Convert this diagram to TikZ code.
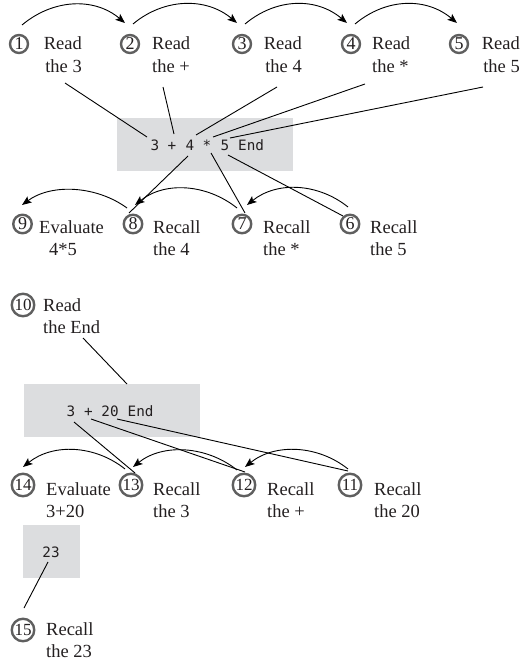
\documentclass[tikz,border=0pt]{standalone}
\usepackage{fontspec}
\setmainfont{Liberation Serif}
\newfontfamily\codefont{DejaVu Sans Mono}
\usetikzlibrary{arrows.meta}
\definecolor{boxgray}{RGB}{220,221,223}
\definecolor{ringgray}{RGB}{95,95,95}
\definecolor{ink}{RGB}{35,31,32}
\newcommand{\twoline}[3]{\begin{tabular}[t]{@{}#1@{}}#2\\#3\end{tabular}}
\begin{document}
\begin{tikzpicture}[x=1pt,y=-1pt,
  lbl/.style={inner sep=0pt, font=\fontsize{18.5}{22}\selectfont, text=ink},
  ring/.style={circle, draw=ringgray, line width=2.4pt, inner sep=0pt, text=ink},
  ringA/.style={ring, minimum size=18pt, font=\fontsize{18}{18}\selectfont},
  ringB/.style={ring, minimum size=18.5pt, font=\fontsize{18}{18}\selectfont},
  ringC/.style={ring, minimum size=22.5pt, font=\fontsize{17}{17}\selectfont},
  tok/.style={inner sep=0pt, font=\codefont\fontsize{14.3}{16}\selectfont, text=ink, anchor=base},
  codebox/.style={fill=boxgray, inner sep=0pt, anchor=north west},
  link/.style={draw=black, line width=0.9pt},
  arr/.style={draw=black, line width=0.9pt, -{Stealth[length=9.5pt,width=7.5pt,inset=2pt]}}
]
\path[use as bounding box] (0,0) rectangle (521,661);

% boxes
\node[codebox, minimum width=176pt, minimum height=53pt] (box1) at (117,118) {};
\node[codebox, minimum width=176pt, minimum height=53pt] (box2) at (24,384) {};
\node[codebox, minimum width=57pt, minimum height=53pt] (box3) at (23,525) {};

% tokens box 1
\node[tok] (t3) at (155,150) {3};
\node[tok] (tp) at (172,150) {+};
\node[tok] (t4) at (190,150) {4};
\node[tok] (tm) at (207,150) {*};
\node[tok] (t5) at (225,150) {5};
\node[tok, anchor=base west] (tE) at (238,150) {End};
% tokens box 2
\node[tok] (b3) at (71,416) {3};
\node[tok] (bp) at (88.5,416) {+};
\node[tok] (b20) at (110,416) {20};
\node[tok, anchor=base west] (bE) at (127.5,416) {End};
% token box 3
\node[tok] (b23) at (51,557) {23};

% circles
\node[ringA] (c1) at (19,44) {1};
\node[ringA] (c2) at (130,44) {2};
\node[ringA] (c3) at (242,44) {3};
\node[ringA] (c4) at (351,44) {4};
\node[ringA] (c5) at (459,44) {5};
\node[ringB] (c9) at (22.5,224) {9};
\node[ringB] (c8) at (133,224) {8};
\node[ringB] (c7) at (242,224) {7};
\node[ringB] (c6) at (350,224) {6};
\node[ringC] (c10) at (23,305) {10};
\node[ringC] (c14) at (23,485) {14};
\node[ringC] (c13) at (131,485) {13};
\node[ringC] (c12) at (244,485) {12};
\node[ringC] (c11) at (350,485) {11};
\node[ringC] (c15) at (23,630) {15};

% labels
\node[lbl, anchor=base east] (L1) at (82,50) {\twoline{r}{Read}{the 3}};
\node[lbl, anchor=base west] (L2) at (152,50) {\twoline{l}{Read}{the +}};
\node[lbl, anchor=base east] (L3) at (302,50) {\twoline{r}{Read}{the 4}};
\node[lbl, anchor=base west] (L4) at (372,50) {\twoline{l}{Read}{the *}};
\node[lbl, anchor=base east] (L5) at (520,50) {\twoline{r}{Read}{the 5}};
\node[lbl, anchor=base west] (L9) at (39,233) {\twoline{l}{Evaluate}{\hspace*{10pt}4*5}};
\node[lbl, anchor=base west] (L8) at (153,233) {\twoline{l}{Recall}{the 4}};
\node[lbl, anchor=base west] (L7) at (263,233) {\twoline{l}{Recall}{the *}};
\node[lbl, anchor=base west] (L6) at (370,233) {\twoline{l}{Recall}{the 5}};
\node[lbl, anchor=base west] (L10) at (43,311) {\twoline{l}{Read}{the End}};
\node[lbl, anchor=base west] (L14) at (46,495) {\twoline{l}{Evaluate}{3+20}};
\node[lbl, anchor=base west] (L13) at (153,495) {\twoline{l}{Recall}{the 3}};
\node[lbl, anchor=base west] (L12) at (267,495) {\twoline{l}{Recall}{the +}};
\node[lbl, anchor=base west] (L11) at (374,495) {\twoline{l}{Recall}{the 20}};
\node[lbl, anchor=base west] (L15) at (46,635) {\twoline{l}{Recall}{the 23}};

% lines from labels to box 1
\draw[link] ([shift={(-17,33)}]L1.base east) -- ([shift={(-8,-13)}]t3.base);
\draw[link] ([shift={(11,37)}]L2.base west) -- ([shift={(2,-16)}]tp.base);
\draw[link] ([shift={(-25,37)}]L3.base east) -- ([shift={(6,-15)}]t4.base);
\draw[link] ([shift={(-7,34)}]L4.base west) -- ([shift={(6,-13)}]tm.base);
\draw[link] ([shift={(-37,37)}]L5.base east) -- ([shift={(5,-12)}]t5.base);
% lines from box 1 to row 2
\draw[link] ([shift={(-2,6)}]t4.base) -- ([shift={(-4,-11)}]c8.center);
\draw[link] ([shift={(4,3)}]tm.base) -- ([shift={(3,-11)}]c7.center);
\draw[link] ([shift={(3,5)}]t5.base) -- ([shift={(-7,-8)}]c6.center);
% read the end
\draw[link] ([shift={(40,27)}]L10.base west) -- ([shift={(103,0)}]box2.north west);
% lines from box 2 to row 3
\draw[link] ([shift={(3,6)}]b3.base) -- ([shift={(4,-12)}]c13.center);
\draw[link] ([shift={(2.5,3)}]bp.base) -- ([shift={(1,-13)}]c12.center);
\draw[link] ([shift={(7,3)}]b20.base) -- ([shift={(-2,-14)}]c11.center);
% box 3 to 15
\draw[link] ([shift={(-3,5)}]b23.base) -- ([shift={(1,-22)}]c15.center);

% top arcs
\draw[arr] ([shift={(3,-19)}]c1.center) .. controls +(31,-26) and +(-31,-26) .. ([shift={(-5,-21)}]c2.center);
\draw[arr] ([shift={(3,-20)}]c2.center) .. controls +(31,-26) and +(-31,-26) .. ([shift={(-5,-21)}]c3.center);
\draw[arr] ([shift={(3,-20)}]c3.center) .. controls +(31,-26) and +(-31,-26) .. ([shift={(-4,-21)}]c4.center);
\draw[arr] ([shift={(4,-20)}]c4.center) .. controls +(31,-26) and +(-31,-26) .. ([shift={(-2,-21)}]c5.center);
% row 2 arcs
\draw[arr] ([shift={(-6,-16)}]c8.center) .. controls +(-30,-22) and +(30,-22) .. ([shift={(-0.5,-19)}]c9.center);
\draw[arr] ([shift={(-5,-16)}]c7.center) .. controls +(-30,-24) and +(30,-24) .. ([shift={(2,-19)}]c8.center);
\draw[arr] ([shift={(-2,-17)}]c6.center) .. controls +(-30,-24) and +(30,-24) .. ([shift={(5,-19)}]c7.center);
% row 3 arcs
\draw[arr] ([shift={(-6,-16)}]c13.center) .. controls +(-30,-24) and +(30,-24) .. ([shift={(0,-18)}]c14.center);
\draw[arr] ([shift={(-7,-15)}]c12.center) .. controls +(-30,-24) and +(30,-24) .. ([shift={(2,-18)}]c13.center);
\draw[arr] ([shift={(-2,-16)}]c11.center) .. controls +(-30,-24) and +(30,-24) .. ([shift={(1,-18)}]c12.center);
\end{tikzpicture}
\end{document}
